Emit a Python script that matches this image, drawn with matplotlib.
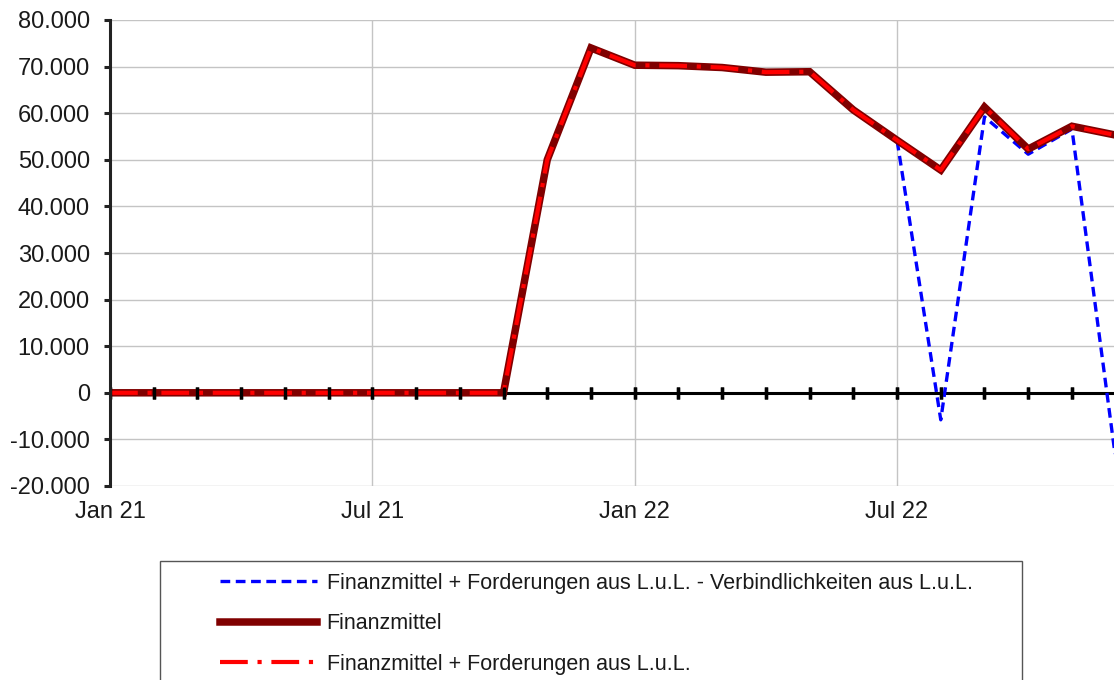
import numpy as np
import matplotlib
matplotlib.use("Agg")
import matplotlib.pyplot as plt
from matplotlib.patches import Rectangle
from matplotlib.ticker import FuncFormatter

plt.rcParams["font.family"] = ["Liberation Sans", "DejaVu Sans"]
plt.rcParams["lines.scale_dashes"] = False

months = ["Jan 21", "Feb 21", "Mar 21", "Apr 21", "May 21", "Jun 21",
          "Jul 21", "Aug 21", "Sep 21", "Oct 21", "Nov 21", "Dec 21",
          "Jan 22", "Feb 22", "Mar 22", "Apr 22", "May 22", "Jun 22",
          "Jul 22", "Aug 22", "Sep 22", "Oct 22", "Nov 22", "Dec 22"]
finanzmittel = [0, 0, 0, 0, 0, 0, 0, 0, 0, 0, 50000, 74000,
                70300, 70200, 69800, 68800, 68900, 60700,
                54200, 47800, 61300, 52300, 57200, 55300]
fin_ford = [0, 0, 0, 0, 0, 0, 0, 0, 0, 0, 50000, 74000,
            70300, 70200, 69800, 68800, 68900, 60700,
            54200, 47800, 61300, 52300, 57200, 55300]
fin_ford_verb = [0, 0, 0, 0, 0, 0, 0, 0, 0, 0, 50000, 74000,
                 70300, 70200, 69800, 68800, 68900, 60700,
                 54200, -5800, 59200, 51200, 56600, -14200]
tick_months = ["Jan 21", "Jul 21", "Jan 22", "Jul 22"]

labels = ["Finanzmittel + Forderungen aus L.u.L. - Verbindlichkeiten aus L.u.L.",
          "Finanzmittel",
          "Finanzmittel + Forderungen aus L.u.L."]

text_col = "#1a1a1a"
x = np.arange(len(months))

fig = plt.figure(figsize=(11.14, 6.8), dpi=100)
ax = fig.add_axes([110 / 1114, 1 - 486 / 680, 1 - 110 / 1114 + 0.0015, (486 - 20) / 680])

ax.set_xlim(0, len(months) - 1)
ax.set_ylim(-20000, 80000)
ax.set_yticks(np.arange(-20000, 80001, 10000))
ax.yaxis.set_major_formatter(FuncFormatter(lambda v, p: f"{int(v):,}".replace(",", ".")))
ax.set_xticks([months.index(m) for m in tick_months])
ax.set_xticklabels(tick_months)

ax.grid(True, color="#c4c4c4", lw=1.0)
ax.set_axisbelow(True)
for s in ["top", "right", "bottom"]:
    ax.spines[s].set_visible(False)
ax.spines["left"].set_color("#222222")
ax.spines["left"].set_linewidth(2.2)
ax.spines["left"].set_zorder(6)
ax.tick_params(axis="y", direction="out", length=4.5, width=2.2, color="#222222",
               pad=10, labelsize=17, labelcolor=text_col)
ax.tick_params(axis="x", length=0, pad=11, labelsize=17, labelcolor=text_col)

# zero line with monthly tick marks
ax.plot(x, np.zeros(len(x)), color="black", lw=2.2, marker="|", ms=8, mew=2.4, zorder=2)

l1, = ax.plot(x, fin_ford_verb, color="#0000ff", lw=2.4, dashes=(7, 4), zorder=3,
              label=labels[0])
l2, = ax.plot(x, finanzmittel, color="#800000", lw=5.4, solid_joinstyle="miter", zorder=4,
              label=labels[1])
l3, = ax.plot(x, fin_ford, color="#ff0000", lw=3.0, dashes=(20, 7, 3, 7), zorder=5,
              label=labels[2])
# keep the monthly marks visible on top of the flat part
ax.plot(x, np.zeros(len(x)), color="black", lw=0, marker="|", ms=8, mew=2.4, zorder=5.5)

# legend frame and entries
fig.patches.append(Rectangle((160 / 1114, -0.05), (1022 - 160) / 1114, 0.05 + 1 - 561 / 680,
                             transform=fig.transFigure, facecolor="white",
                             edgecolor="#555555", lw=1.0))
leg = fig.legend(handles=[l1, l2, l3], loc="upper left",
                 bbox_to_anchor=(220 / 1114, 1 - 573 / 680), frameon=False,
                 fontsize=15.5, handlelength=4.5, handletextpad=0.45,
                 labelspacing=0.9, borderaxespad=0, borderpad=0)
for t in leg.get_texts():
    t.set_color(text_col)

fig.savefig("out.png", dpi=100)
